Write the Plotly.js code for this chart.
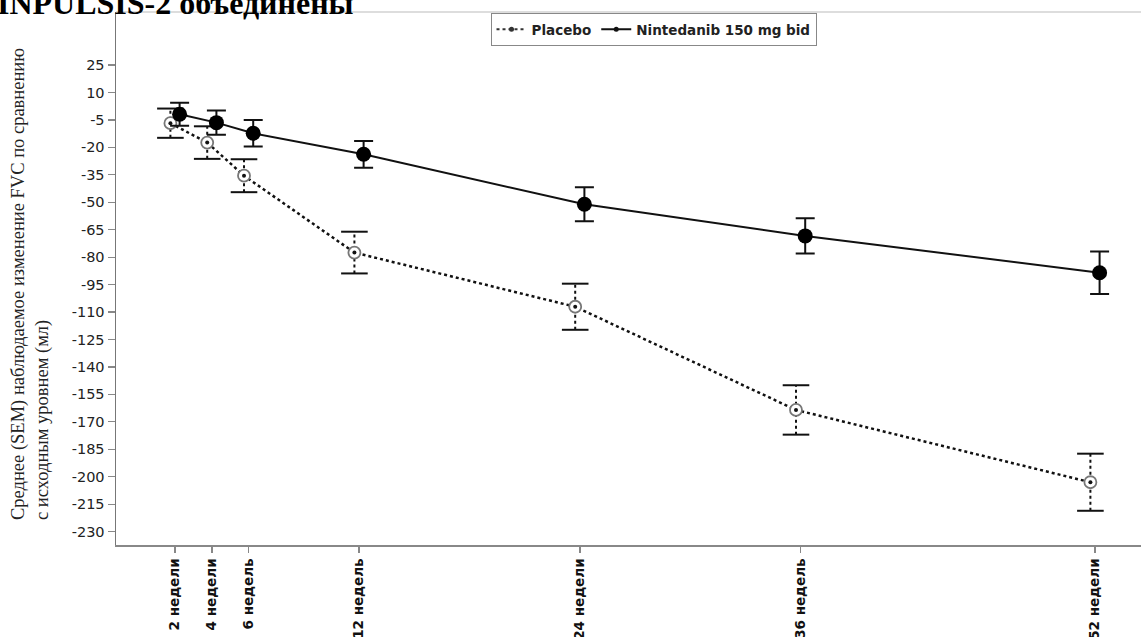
<!DOCTYPE html>
<html>
<head>
<meta charset="utf-8">
<script src="https://cdn.plot.ly/plotly-3.0.1.min.js"></script>
<style>html,body{margin:0;padding:0;background:#fff;overflow:hidden}#chart{width:1141px;height:637px}</style>
</head>
<body>
<div id="chart"></div>
<script>
// ---- data ----
const weeks = [2, 4, 6, 12, 24, 36, 52];
const weekLabels = ['2 недели', '4 недели', '6 недель', '12 недель', '24 недели', '36 недель', '52 недели'];
const placeboMean = [-6.8, -17.4, -35.5, -77.5, -107.1, -163.5, -203.0];
const placeboSem = [8.0, 8.9, 9.0, 11.4, 12.6, 13.5, 15.6];
const nintedanibMean = [-1.9, -6.5, -12.3, -23.8, -51.1, -68.4, -88.5];
const nintedanibSem = [6.3, 6.6, 7.2, 7.3, 9.3, 9.6, 11.6];
const yTicks = [25, 10, -5, -20, -35, -50, -65, -80, -95, -110, -125, -140, -155, -170, -185, -200, -215, -230];
const yTickLabels = ['25', '10', '-5', '-20', '-35', '-50', '-65', '-80', '-95', '-110', '-125', '-140', '-155', '-170', '-185', '-200', '-215', '-230'];
const seriesNames = ['Placebo', 'Nintedanib 150 mg bid'];
const chartTitle = 'INPULSIS-2 объединены';
const yTitle = 'Среднее (SEM) наблюдаемое изменение FVC по сравнению<br>с исходным уровнем (мл)';

// small horizontal dodge so the two groups do not overlap
const dodge = 0.25;
const xP = weeks.map(w => w - dodge);
const xN = weeks.map(w => w + dodge);

// placebo dotted error stems and caps
const stemX = [], stemY = [], capX = [], capY = [];
weeks.forEach((w, i) => {
  const lo = placeboMean[i] - placeboSem[i], hi = placeboMean[i] + placeboSem[i];
  stemX.push(xP[i], xP[i], null); stemY.push(lo, hi, null);
  capX.push(xP[i], xP[i]); capY.push(lo, hi);
});

const traces = [
  {x: stemX, y: stemY, mode: 'lines', line: {color: '#111', width: 2, dash: 'dot'}, showlegend: false, hoverinfo: 'skip'},
  {x: capX, y: capY, mode: 'markers', marker: {symbol: 'line-ew', size: 19, line: {color: '#111', width: 2}}, showlegend: false, hoverinfo: 'skip'},
  {x: xP, y: placeboMean, mode: 'lines', line: {color: '#111', width: 2.5, dash: 'dot'}, showlegend: false},
  {x: xP, y: placeboMean, mode: 'markers', marker: {symbol: 'circle', size: 12, color: '#fff', line: {color: '#777', width: 1.8}}, showlegend: false},
  {x: xP, y: placeboMean, mode: 'markers', marker: {symbol: 'circle', size: 4, color: '#111'}, showlegend: false},
  {x: xN, y: nintedanibMean, mode: 'lines+markers', line: {color: '#111', width: 2},
   marker: {symbol: 'circle', size: 15, color: '#000'},
   error_y: {type: 'data', array: nintedanibSem, visible: true, color: '#111', thickness: 2, width: 9.5},
   showlegend: false},
  // legend entries
  {x: [null], y: [null], name: seriesNames[0], mode: 'lines+markers', line: {color: '#333', width: 2, dash: 'dot'}, marker: {size: 5, color: '#333'}},
  {x: [null], y: [null], name: seriesNames[1], mode: 'lines+markers', line: {color: '#111', width: 2}, marker: {size: 5, color: '#111'}}
];

const layout = {
  width: 1141, height: 637,
  margin: {l: 116, r: 0, t: 12, b: 92, pad: 0},
  paper_bgcolor: '#fff', plot_bgcolor: '#fff',
  showlegend: true,
  legend: {orientation: 'h', x: 0.5244, xanchor: 'center', y: 0.998, yanchor: 'top',
           bordercolor: '#888', borderwidth: 1, bgcolor: '#fff',
           font: {family: 'DejaVu Sans', size: 13.5, color: '#222', weight: 'bold'},
           itemwidth: 30, tracegroupgap: 0},
  xaxis: {range: [-1.207, 54.5], tickvals: weeks, ticktext: weekLabels, tickangle: -90,
          showgrid: false, zeroline: false, showline: true, linecolor: '#888', linewidth: 2,
          ticks: 'outside', ticklen: 6, tickcolor: '#888', tickwidth: 1.5,
          tickfont: {family: 'DejaVu Sans', size: 13.5, color: '#111', weight: 'bold'}, automargin: false},
  yaxis: {range: [-237.3, 53.96], tickvals: yTicks, ticktext: yTickLabels, showgrid: false, zeroline: false,
          showline: true, linecolor: '#777', linewidth: 1.5,
          ticks: 'outside', ticklen: 7, tickcolor: '#888', tickwidth: 1.2,
          tickfont: {family: 'DejaVu Sans', size: 14.5, color: '#222'}, automargin: false},
  shapes: [{type: 'line', xref: 'paper', yref: 'paper', x0: 0, x1: 1, y0: 1, y1: 1, line: {color: '#bbb', width: 1}}],
  annotations: [
    {text: '<b>' + chartTitle + '</b>', xref: 'paper', yref: 'paper', x: -0.118, y: 0.9794,
     xanchor: 'left', yanchor: 'bottom', showarrow: false,
     font: {family: 'Liberation Serif', size: 32, color: '#000'}},
    {text: yTitle, xref: 'paper', yref: 'paper', x: -0.0829, y: 0.0432, xanchor: 'center', yanchor: 'bottom',
     textangle: -90, align: 'left', showarrow: false,
     font: {family: 'Liberation Serif', size: 18.5, color: '#222'}}
  ]
};

Plotly.newPlot('chart', traces, layout, {displayModeBar: false, staticPlot: true});
</script>
</body>
</html>
